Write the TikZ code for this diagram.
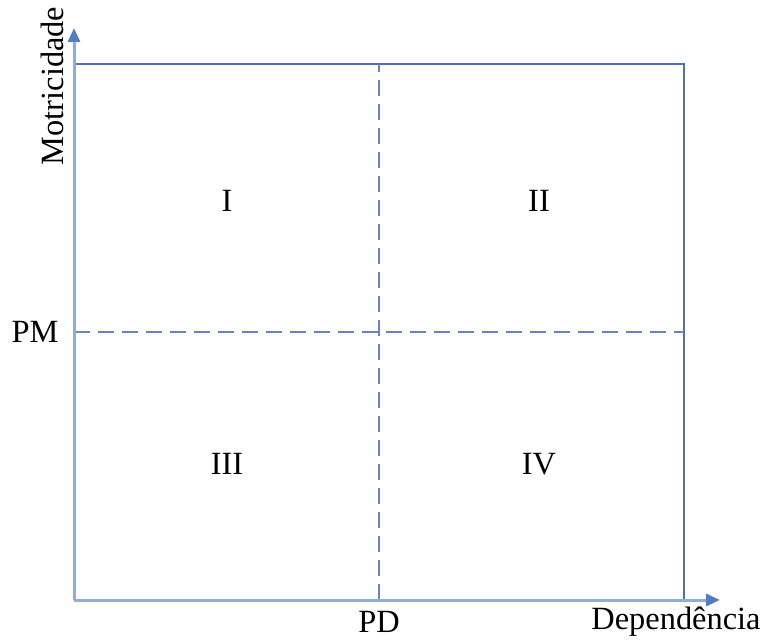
\documentclass[tikz,border=0pt]{standalone}
\usepackage{fontspec}
\setmainfont{Liberation Serif}
\usetikzlibrary{arrows.meta}

\definecolor{axisblue}{RGB}{146,172,214}
\definecolor{tipblue}{RGB}{80,125,195}
\definecolor{boxblue}{RGB}{76,112,178}

\begin{document}
\begin{tikzpicture}[x=0.5pt,y=0.5pt]
    % Matriz motricidade x dependencia, dividida em quatro quadrantes.

    \tikzset{
      axes/.style={-{Triangle[length=7pt,width=6pt,color=tipblue]}, line width=1.5pt, color=axisblue},
      frame/.style={line width=0.8pt, color=boxblue},
      split/.style={line width=0.8pt, color=boxblue!85!white, dash pattern=on 8pt off 4pt},
      label/.style={font=\fontsize{16.2}{19}\selectfont, inner sep=0pt}
    }

    \useasboundingbox (0,0) rectangle (764,639);

    % --- pontos de referencia
    \coordinate (O) at (74,39);
    \coordinate (ytip) at (74,611);
    \coordinate (xtip) at (720,39);
    \coordinate (tl) at (74,575);
    \coordinate (tr) at (684,575);
    \coordinate (br) at (684,39);
    \coordinate (pmL) at (74,307);
    \coordinate (pmR) at (684,307);
    \coordinate (pdB) at (379,39);
    \coordinate (pdT) at (379,575);

    % --- moldura e divisoes
    \draw[frame] (tl) -- (tr) -- (br);
    \draw[split] (pmL) -- (pmR);
    \draw[split] (pdB) -- (pdT);

    % --- eixos
    \draw[axes] (O) -- (ytip);
    \draw[axes] (O) -- (xtip);

    % --- rotulos
    \node[label] (q1) at (227,438) {I};
    \node[label] (q2) at (539,438) {II};
    \node[label] (q3) at (227,175) {III};
    \node[label] (q4) at (539,175) {IV};
    \node[label] (pm) at (35,307) {PM};
    \node[label] (pd) at (379,17) {PD};
    \node[label] (dep) at (676,17) {Dependência};
    \node[label, rotate=90] (mot) at (52,553) {Motricidade};
\end{tikzpicture}
\end{document}
